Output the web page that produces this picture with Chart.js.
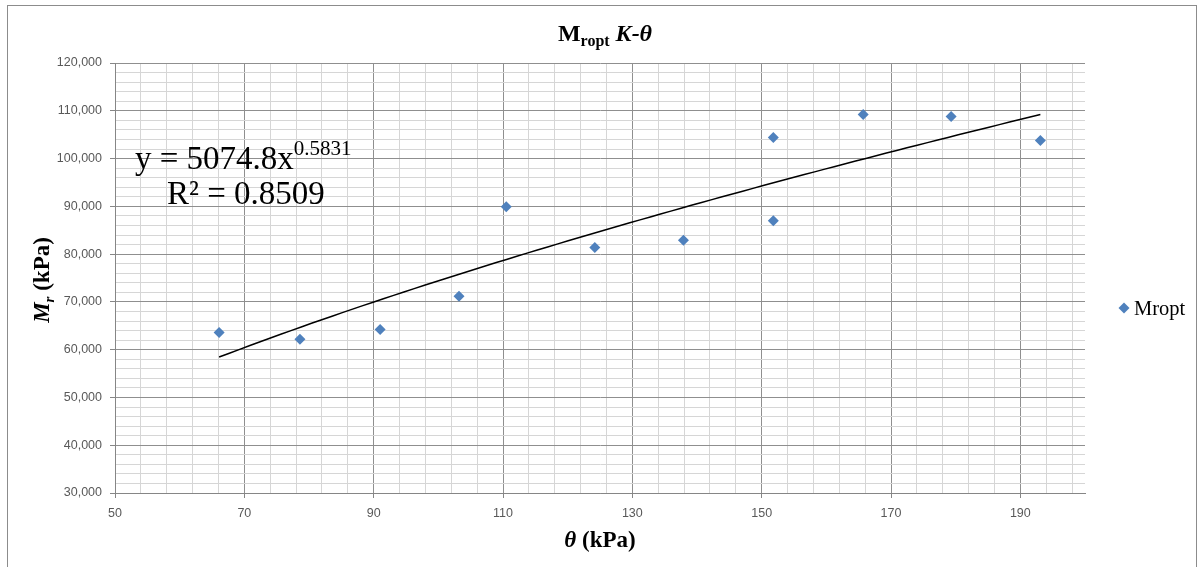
<!DOCTYPE html>
<html>
<head>
<meta charset="utf-8">
<script src="https://cdn.jsdelivr.net/npm/chart.js@4"></script>
<style>
  html, body { margin: 0; padding: 0; background: #fff; overflow: hidden; }
  canvas { display: block; }
</style>
</head>
<body>
<canvas id="c" width="1198" height="567"></canvas>
<script>
// Bulk stress θ (kPa) and resilient modulus Mropt (kPa) for each test
const thetaKPa = [66.1, 78.6, 91.0, 103.2, 110.5, 124.2, 137.9, 151.8, 151.8, 165.7, 179.3, 193.1];
const mroptKPa = [63600, 62200, 64200, 71200, 89900, 81400, 82900, 104400, 87000, 109200, 108800, 103800];

// Power-law trendline  y = a·x^b  and its coefficient of determination
const fitA = 5074.8;
const fitB = 0.5831;
const fitR2 = 0.8509;

// Axis ranges, major (labelled) and minor (grid) steps
const xMin = 50, xMax = 200, xMajor = 20, xMinor = 4;
const yMin = 30000, yMax = 120000, yMajor = 10000, yMinor = 2000;

const seriesName = 'Mropt';

const SERIF = '"Liberation Serif", "Times New Roman", serif';
const MARKER = '#4F81BD';
const MAJOR_GRID = '#8f8f8f';
const MINOR_GRID = '#d6d6d6';

const points = thetaKPa.map((x, i) => ({ x, y: mroptKPa[i] }));

// Trendline sampled along the fitted curve across the observed θ range
const tMin = Math.min(...thetaKPa), tMax = Math.max(...thetaKPa);
const trend = [];
for (let i = 0; i <= 80; i++) {
  const x = tMin + (tMax - tMin) * i / 80;
  trend.push({ x, y: fitA * Math.pow(x, fitB) });
}

function isMajor(v, base, step) {
  const k = (v - base) / step;
  return Math.abs(k - Math.round(k)) < 1e-6;
}

function stepTicks(lo, hi, step) {
  const out = [];
  for (let v = lo; v <= hi + 1e-9; v += step) out.push({ value: +v.toFixed(6) });
  return out;
}

// Draws a sequence of differently styled text runs on one baseline
function drawRuns(ctx, runs, x, y, align) {
  let total = 0;
  runs.forEach(r => { ctx.font = r.font; r.w = ctx.measureText(r.text).width; total += r.w; });
  let cx = align === 'center' ? x - total / 2 : x;
  ctx.textAlign = 'left';
  ctx.textBaseline = 'alphabetic';
  runs.forEach(r => {
    ctx.font = r.font;
    ctx.fillText(r.text, cx, y + (r.dy || 0));
    cx += r.w;
  });
}

const decorations = {
  id: 'decorations',
  beforeDraw(chart) {
    const ctx = chart.ctx;
    ctx.save();
    ctx.fillStyle = '#fff';
    ctx.fillRect(0, 0, chart.width, chart.height);
    ctx.restore();
  },
  afterDraw(chart) {
    const ctx = chart.ctx;
    ctx.save();

    // outer chart frame
    ctx.strokeStyle = '#8c8c8c';
    ctx.lineWidth = 1;
    ctx.strokeRect(7.5, 5.5, 1189, 600);

    ctx.fillStyle = '#000';

    // chart title
    drawRuns(ctx, [
      { text: 'M', font: `bold 24px ${SERIF}` },
      { text: 'ropt', font: `bold 16px ${SERIF}`, dy: 5 },
      { text: ' ', font: `bold 24px ${SERIF}` },
      { text: 'K-θ', font: `italic bold 24px ${SERIF}` }
    ], 605, 41, 'center');

    // y axis title
    ctx.save();
    ctx.translate(49, 280);
    ctx.rotate(-Math.PI / 2);
    drawRuns(ctx, [
      { text: 'M', font: `italic bold 23px ${SERIF}` },
      { text: 'r', font: `italic bold 15px ${SERIF}`, dy: 5 },
      { text: ' (kPa)', font: `bold 23px ${SERIF}` }
    ], 0, 0, 'center');
    ctx.restore();

    // x axis title
    drawRuns(ctx, [
      { text: 'θ', font: `italic bold 23px ${SERIF}` },
      { text: ' (kPa)', font: `bold 23px ${SERIF}` }
    ], 600, 547, 'center');

    // trendline equation and R²
    drawRuns(ctx, [
      { text: `y = ${fitA}x`, font: `33px ${SERIF}` },
      { text: `${fitB}`, font: `21px ${SERIF}`, dy: -14 }
    ], 135, 169, 'left');
    drawRuns(ctx, [
      { text: `R² = ${fitR2.toFixed(4)}`, font: `33px ${SERIF}` }
    ], 167, 204, 'left');

    // legend
    const lx = 1124, ly = 308, s = 5.5;
    ctx.fillStyle = MARKER;
    ctx.beginPath();
    ctx.moveTo(lx, ly - s); ctx.lineTo(lx + s, ly); ctx.lineTo(lx, ly + s); ctx.lineTo(lx - s, ly);
    ctx.closePath();
    ctx.fill();
    ctx.fillStyle = '#000';
    drawRuns(ctx, [{ text: seriesName, font: `20.5px ${SERIF}` }], 1134, 315, 'left');

    ctx.restore();
  }
};

new Chart(document.getElementById('c'), {
  type: 'scatter',
  data: {
    datasets: [
      {
        label: 'trend',
        type: 'line',
        data: trend,
        borderColor: '#000',
        borderWidth: 1.5,
        pointRadius: 0,
        fill: false,
        tension: 0,
        order: 0
      },
      {
        label: seriesName,
        data: points,
        pointStyle: 'rectRot',
        pointRadius: 5.5,
        pointHoverRadius: 5.5,
        backgroundColor: MARKER,
        borderColor: MARKER,
        borderWidth: 0,
        order: 1
      }
    ]
  },
  options: {
    responsive: false,
    animation: false,
    devicePixelRatio: 1,
    events: [],
    layout: { padding: { left: 8, right: 113, top: 63, bottom: 0 } },
    plugins: {
      legend: { display: false },
      title: { display: false },
      tooltip: { enabled: false }
    },
    scales: {
      x: {
        type: 'linear',
        min: xMin,
        max: xMax,
        afterBuildTicks(scale) { scale.ticks = stepTicks(xMin, xMax - 1e-6, xMinor).concat([{ value: xMax }]); },
        afterFit(scale) { scale.height = 74; },
        border: { display: true, color: '#868686', width: 1 },
        grid: {
          drawTicks: true,
          tickLength: 5,
          color: c => c.tick && c.tick.value === xMax ? 'transparent'
            : (c.tick && isMajor(c.tick.value, xMin, xMajor) ? MAJOR_GRID : MINOR_GRID),
          tickColor: c => c.tick && c.tick.value !== xMax && isMajor(c.tick.value, xMin, xMajor) ? '#868686' : 'transparent'
        },
        ticks: {
          autoSkip: false,
          maxRotation: 0,
          padding: 8,
          color: '#595959',
          font: { family: '"Liberation Sans", Arial, sans-serif', size: 12.5 },
          callback: v => (v !== xMax && isMajor(v, xMin, xMajor)) ? String(v) : ''
        }
      },
      y: {
        type: 'linear',
        min: yMin,
        max: yMax,
        afterBuildTicks(scale) { scale.ticks = stepTicks(yMin, yMax, yMinor); },
        afterFit(scale) { scale.width = 107; },
        border: { display: true, color: '#868686', width: 1 },
        grid: {
          drawTicks: true,
          tickLength: 5,
          color: c => c.tick && isMajor(c.tick.value, yMin, yMajor) ? MAJOR_GRID : MINOR_GRID,
          tickColor: c => c.tick && isMajor(c.tick.value, yMin, yMajor) ? '#868686' : 'transparent'
        },
        ticks: {
          autoSkip: false,
          padding: 8,
          color: '#595959',
          font: { family: '"Liberation Sans", Arial, sans-serif', size: 12.5 },
          callback: v => isMajor(v, yMin, yMajor) ? v.toLocaleString('en-US') : ''
        }
      }
    }
  },
  plugins: [decorations]
});
</script>
</body>
</html>
